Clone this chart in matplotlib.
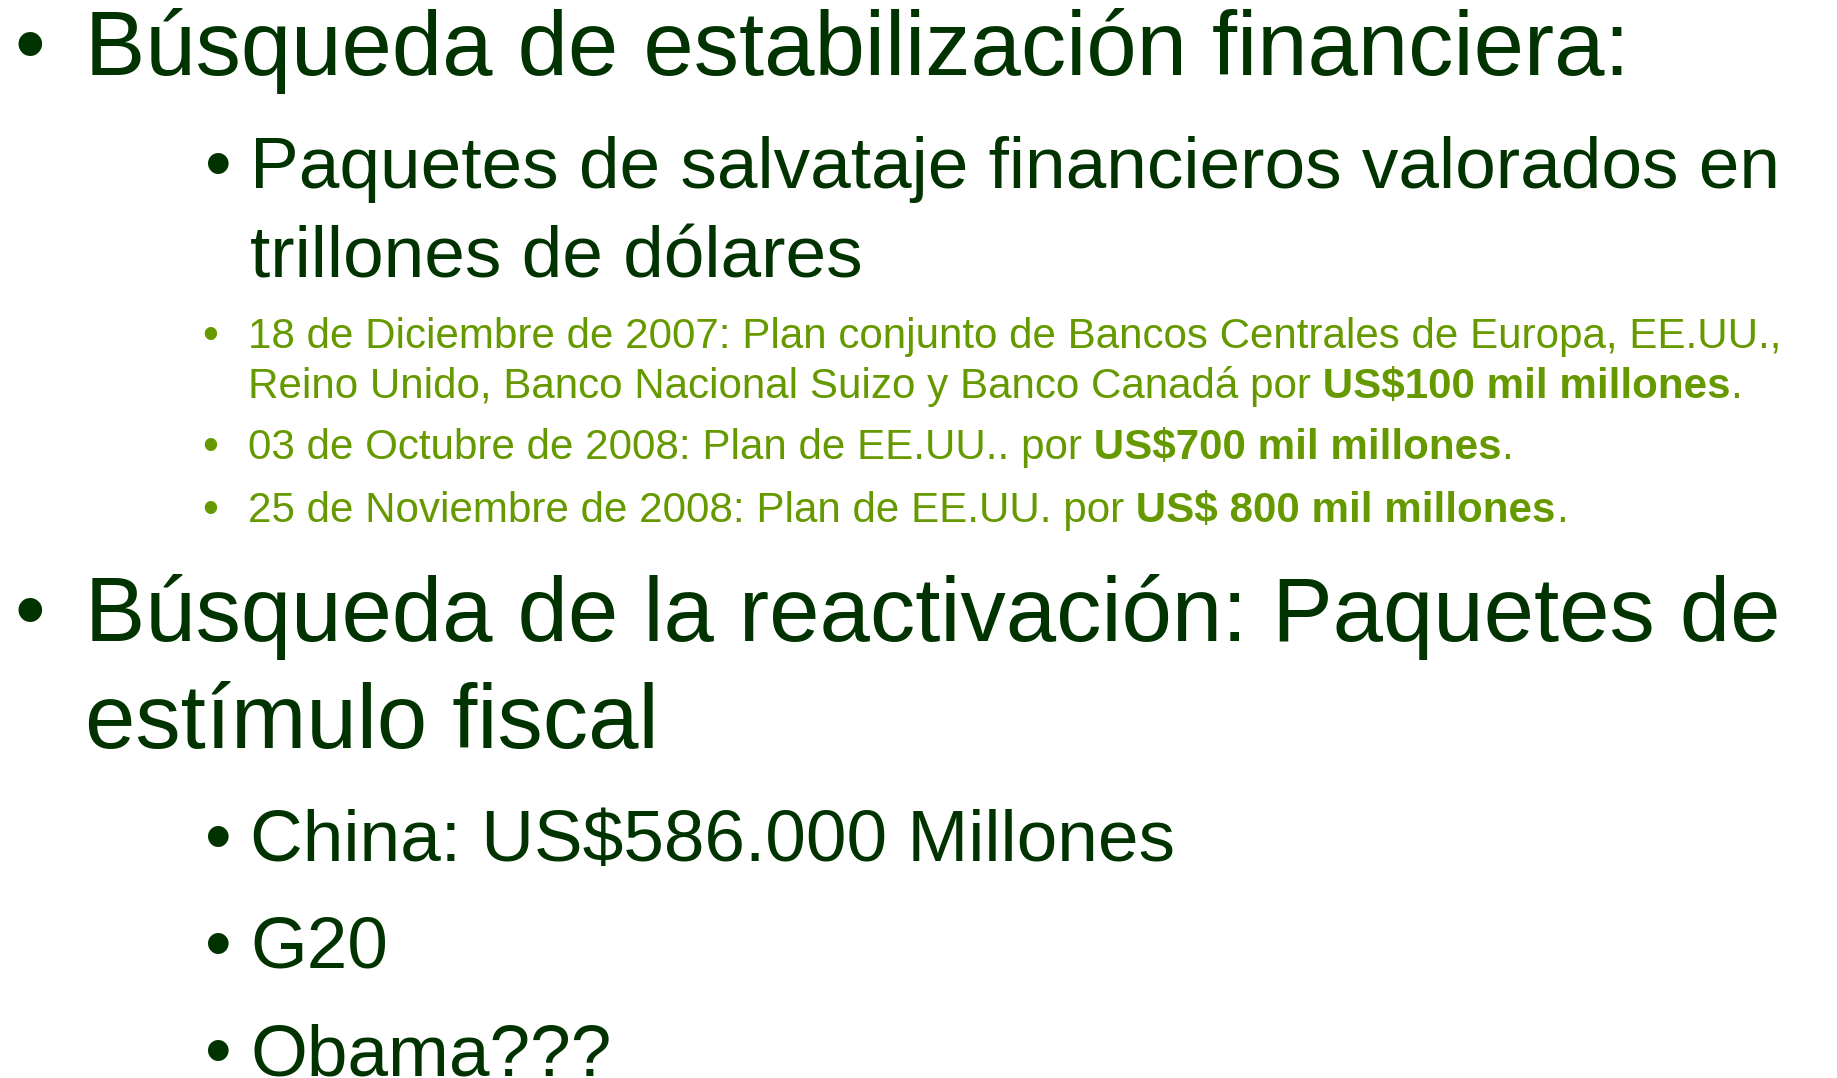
import matplotlib
matplotlib.use("Agg")
import matplotlib.pyplot as plt

# ---- content -------------------------------------------------------------
FONT = ["Liberation Sans", "DejaVu Sans"]
DARK = "#003300"
GREEN = "#669900"

# each line: list of (segment text, bold)
line_texts = [
    [("Búsqueda de estabilización financiera:", False)],
    [("Paquetes de salvataje financieros valorados en", False)],
    [("trillones de dólares", False)],
    [("18 de Diciembre de 2007: Plan conjunto de Bancos Centrales de Europa, EE.UU.,", False)],
    [("Reino Unido, Banco Nacional Suizo y Banco Canadá por", False),
     (" US$100 mil millones", True), (".", False)],
    [("03 de Octubre de 2008: Plan de EE.UU.. por", False),
     (" US$700 mil millones", True), (".", False)],
    [("25 de Noviembre de 2008: Plan de EE.UU. por", False),
     (" US$ 800 mil millones", True), (".", False)],
    [("Búsqueda de la reactivación: Paquetes de", False)],
    [("estímulo fiscal", False)],
    [("China: US$586.000 Millones", False)],
    [("G20", False)],
    [("Obama???", False)],
]
line_levels = [1, 2, 2, 3, 3, 3, 3, 1, 1, 2, 2, 2]
line_bullet = [True, True, False, True, False, True, True, True, False, True, True, True]

# ---- layout (pixels in a 1837 x 1078 canvas) -------------------------------
W, H = 1837, 1078
line_x0 = [85, 250, 250, 248, 248, 248, 248, 85, 85, 250, 250, 250]
line_x1 = [1635, 1814, 890, 1790, 1727, 1518, 1566, 1778, 668, 1158, 373, 560]
line_base = [75, 188, 277, 348, 398, 459, 522, 641, 748, 861, 968, 1075]
fit_lines = {1: [0, 7], 2: [1, 9], 3: [3, 4, 5, 6]}
level_color = {1: DARK, 2: DARK, 3: GREEN}
bullet_x = {1: 30, 2: 218, 3: 210}
bullet_dy = {1: 32, 2: 25, 3: 15}
bullet_d = {1: 23, 2: 20, 3: 12}

fig = plt.figure(figsize=(W / 100, H / 100), dpi=100)
ax = fig.add_axes([0, 0, 1, 1])
ax.set_xlim(0, W)
ax.set_ylim(H, 0)
ax.axis("off")
fig.canvas.draw()
renderer = fig.canvas.get_renderer()


def seg_width(text, bold, size_pt):
    t = ax.text(0, 0, text, fontsize=size_pt, family=FONT,
                fontweight="bold" if bold else "normal", parse_math=False)
    w = t.get_window_extent(renderer).width
    t.remove()
    return w


REF = 50.0
level_size = {}
for lvl, idxs in fit_lines.items():
    ratios = []
    for i in idxs:
        w = sum(seg_width(s, b, REF) for s, b in line_texts[i])
        ratios.append((line_x1[i] - line_x0[i]) / w)
    level_size[lvl] = REF * sum(ratios) / len(ratios)

bw = seg_width("•", False, REF)
for i, segs in enumerate(line_texts):
    lvl = line_levels[i]
    size = level_size[lvl]
    col = level_color[lvl]
    x = line_x0[i]
    for s, b in segs:
        ax.text(x, line_base[i], s, fontsize=size, family=FONT, color=col,
                fontweight="bold" if b else "normal", va="baseline",
                ha="left", parse_math=False)
        x += seg_width(s, b, size)
    if line_bullet[i]:
        d = bullet_d[lvl]
        bsize = REF * d / (bw * 0.75)
        ax.text(bullet_x[lvl], line_base[i] - bullet_dy[lvl] + 0.32 * d, "•",
                fontsize=bsize, family=FONT, color=col,
                ha="center", va="center", parse_math=False)

fig.savefig("out.png", dpi=100, facecolor="white")
